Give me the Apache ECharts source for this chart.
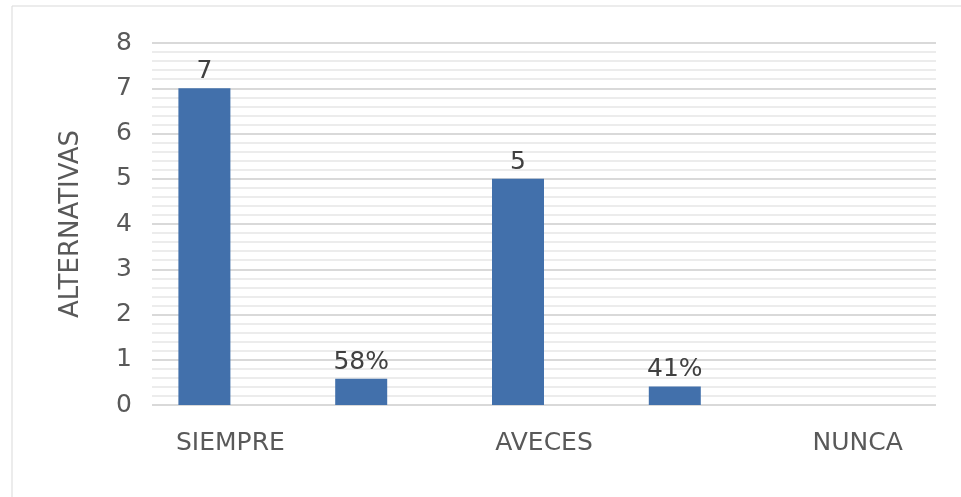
<!DOCTYPE html>
<html>
<head>
<meta charset="utf-8">
<script src="https://cdn.jsdelivr.net/npm/echarts@6/dist/echarts.min.js"></script>
<style>
  html, body { margin: 0; padding: 0; background: #ffffff; }
  #chart { width: 961px; height: 497px; }
</style>
</head>
<body>
<div id="chart"></div>
<script>
// Survey answers: frequency and share for each alternative
const categories = ['SIEMPRE', 'AVECES', 'NUNCA'];
const counts = [7, 5, 0];
const shares = [0.58, 0.41];
const yTicks = [0, 1, 2, 3, 4, 5, 6, 7, 8];

const barColor = '#4270ab';
const textColor = '#595959';
const font = 'DejaVu Sans';

// Each alternative gets a slot for its count, followed by an unlabeled slot for its share
const slotNames = [];
const slotValues = [];
categories.forEach((name, i) => {
  slotNames.push(name);
  slotValues.push({ value: counts[i], kind: 'count' });
  if (i < shares.length) {
    slotNames.push('');
    slotValues.push({ value: shares[i], kind: 'share' });
  }
});

const chart = echarts.init(document.getElementById('chart'), null, { renderer: 'canvas' });

chart.setOption({
  animation: false,
  backgroundColor: '#ffffff',
  graphic: [{
    type: 'rect',
    shape: { x: 12, y: 6, width: 960, height: 500 },
    style: { fill: 'none', stroke: '#d9d9d9', lineWidth: 1 },
    silent: true
  }],
  grid: { left: 152, right: 25, top: 43, bottom: 92 },
  xAxis: {
    type: 'category',
    data: slotNames,
    axisLine: { show: false },
    axisTick: { show: false },
    axisLabel: { color: textColor, fontSize: 25, fontFamily: font, margin: 26, interval: 0 }
  },
  yAxis: {
    type: 'value',
    min: yTicks[0],
    max: yTicks[yTicks.length - 1],
    interval: 1,
    name: 'ALTERNATIVAS',
    nameLocation: 'middle',
    nameGap: 68,
    nameTextStyle: { color: textColor, fontSize: 26, fontFamily: font },
    axisLine: { show: false },
    axisTick: { show: false },
    axisLabel: { color: textColor, fontSize: 25, fontFamily: font, margin: 20 },
    splitLine: { lineStyle: { color: '#d9d9d9', width: 2 } },
    minorTick: { show: false, splitNumber: 5 },
    minorSplitLine: { show: true, lineStyle: { color: '#ececec', width: 2 } }
  },
  series: [
    {
      type: 'bar',
      data: slotValues.map(d => d.value),
      barWidth: 52,
      barGap: '0%',
      itemStyle: { color: barColor },
      label: {
        show: true,
        position: 'top',
        distance: 4,
        color: '#404040',
        fontSize: 25,
        fontFamily: font,
        formatter: p => {
          const d = slotValues[p.dataIndex];
          if (!(d.value > 0)) return '';
          return d.kind === 'share' ? Math.round(d.value * 100) + '%' : String(d.value);
        }
      }
    },
    {
      // empty companion series keeps each bar on the left half of its slot
      type: 'bar',
      data: slotValues.map(() => null),
      barWidth: 52,
      itemStyle: { color: barColor }
    }
  ]
});
</script>
</body>
</html>
